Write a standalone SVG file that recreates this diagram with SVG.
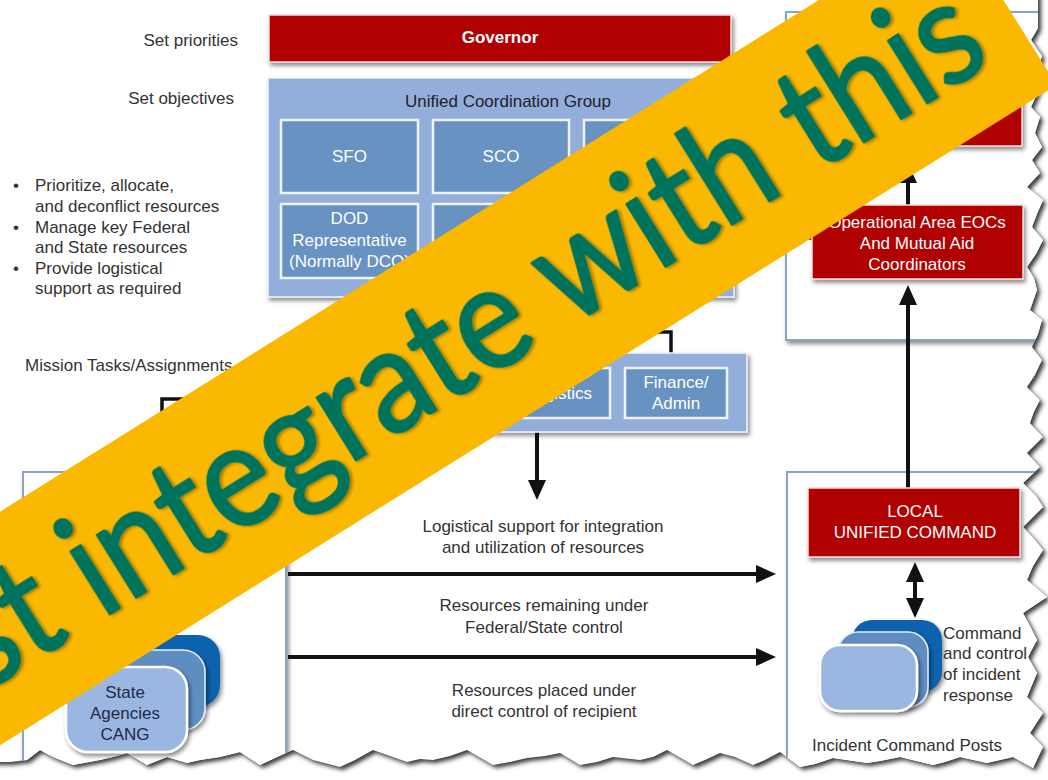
<svg xmlns="http://www.w3.org/2000/svg" width="1048" height="780" viewBox="0 0 1048 780">
  <defs>
    <style>
      .lbl{font-family:"Liberation Sans",Arial,sans-serif;font-size:17px;fill:#333}
      .mid{text-anchor:middle}
      .end{text-anchor:end}
      .wt{fill:#fff}
      .dk{fill:#222}
      .navy{fill:#1d2a48}
      .red{fill:#B10005;stroke:#f3dede;stroke-width:1.5}
      .ucg{fill:#93AEDA;stroke:#eef2fa;stroke-width:1.5}
      .cell{fill:#6892C2;stroke:#eef3fb;stroke-width:2.5}
      .frame{fill:#fff;stroke:#88A5C7;stroke-width:2}
      .wire{fill:none;stroke:#111;stroke-width:3.5}
      .arrow{fill:none;stroke:#111;stroke-width:4;marker-end:url(#ah)}
      .both{marker-start:url(#ah)}
      .c1{fill:#0B62AD}
      .c2{fill:#5E8DC2;stroke:#e8eef8;stroke-width:1.5}
      .c3{fill:#9CB6E2;stroke:#fff;stroke-width:2.5}
    </style>
    <filter id="sh" x="-10%" y="-10%" width="125%" height="130%">
      <feDropShadow dx="2" dy="3" stdDeviation="2" flood-color="#000" flood-opacity="0.45"/>
    </filter>
    <filter id="tearShade" x="-5%" y="-5%" width="110%" height="110%">
      <feGaussianBlur stdDeviation="2"/>
    </filter>
    <filter id="ts" x="-5%" y="-5%" width="110%" height="110%">
      <feDropShadow dx="2" dy="2" stdDeviation="1.5" flood-color="#000" flood-opacity="0.35"/>
    </filter>
    <marker id="ah" viewBox="0 0 20 18" markerWidth="20" markerHeight="18" refX="13" refY="9" orient="auto-start-reverse" markerUnits="userSpaceOnUse">
      <path d="M0,0 L20,9 L0,18 z" fill="#111"/>
    </marker>
    <!-- torn sheet outline: ragged right and bottom edges -->
    <path id="pageShape" d="M-10,-10 H1038 V28 L1031,40 L1042,56 L1037,70 L1040,86 L1036,96 L1031,107 L1040,117 L1035,133 L1042,147 L1032,160 L1040,173 L1027,187 L1043,200 L1037,214 L1032,227 L1043,240 L1036,254 L1027,267 L1034,278 L1037,290 L1030,310 L1042,320 L1038,334 L1032,347 L1042,360 L1035,375 L1027,387 L1040,400 L1034,412 L1030,423 L1043,437 L1027,453 L1040,467 L1023,483 L1036,496 L1043,507 L1023,527 L1035,540 L1043,550 L1033,566 L1027,580 L1047,597 L1023,613 L1030,626 L1037,640 L1028,657 L1037,673 L1027,697 L1036,706 L1043,713 L1030,733 L1043,747 L1033,768 L1013,757 L1000,760 L987,763 L960,757 L945,762 L933,765 L900,757 L880,761 L867,763 L833,758 L815,764 L800,767 L780,752 L765,760 L753,765 L735,757 L720,753 L705,760 L693,765 L667,750 L653,757 L640,760 L613,757 L597,762 L580,765 L560,753 L545,756 L527,758 L510,762 L493,765 L467,750 L450,756 L433,760 L420,759 L407,762 L373,750 L355,760 L340,767 L313,760 L293,750 L275,758 L260,765 L240,752 L220,757 L200,760 L187,763 L167,757 L147,765 L127,753 L113,757 L100,760 L73,765 L53,757 L40,750 L27,760 L10,762 L-10,762 Z"/>
    <clipPath id="page"><use href="#pageShape"/></clipPath>
  </defs>

  <rect width="1048" height="780" fill="#fff"/>

  <!-- sheet with its shadow -->
  <use href="#pageShape" fill="#3a3a3a" transform="translate(3,3)" filter="url(#tearShade)"/>
  <use href="#pageShape" fill="#fff"/>

  <g clip-path="url(#page)">
    <!-- side labels -->
    <g id="labels">
      <text class="lbl end" x="238" y="46">Set priorities</text>
      <text class="lbl end" x="234" y="104">Set objectives</text>
      <text class="lbl" x="13" y="191">•</text>
      <text class="lbl" x="35" y="191">Prioritize, allocate,</text>
      <text class="lbl" x="35" y="212">and deconflict resources</text>
      <text class="lbl" x="13" y="233">•</text>
      <text class="lbl" x="35" y="233">Manage key Federal</text>
      <text class="lbl" x="35" y="253">and State resources</text>
      <text class="lbl" x="13" y="274">•</text>
      <text class="lbl" x="35" y="274">Provide logistical</text>
      <text class="lbl" x="35" y="294">support as required</text>
      <text class="lbl" x="25" y="371">Mission Tasks/Assignments</text>
    </g>

    <!-- outer frames -->
    <g id="state-frame"><rect class="frame" x="786" y="12" width="270" height="328" filter="url(#sh)"/></g>
    <g id="field-frame"><rect class="frame" x="23" y="472" width="263" height="320" filter="url(#sh)"/></g>
    <g id="local-frame"><rect class="frame" x="787" y="472" width="270" height="320" filter="url(#sh)"/></g>

    <!-- connectors -->
    <g id="connectors">
      <path class="wire" d="M300,399 H162 V472"/>
      <path class="wire" d="M500,297 V332 H671 V368"/>
      <path class="wire" d="M735,238 H812"/>
      <path class="arrow" d="M908,488 V292"/>
      <path class="arrow" d="M908,205 V170"/>
      <path class="arrow" d="M537,432 V493"/>
      <path class="arrow" d="M288,574 H769"/>
      <path class="arrow" d="M288,657 H769"/>
      <path class="arrow both" d="M915,569 V611"/>
    </g>

    <g id="governor">
      <rect class="red" x="269" y="15" width="462" height="47" filter="url(#sh)"/>
      <text class="lbl mid wt" x="500" y="43" font-weight="bold">Governor</text>
    </g>

    <g id="ucg">
      <rect class="ucg" x="268" y="78" width="466" height="219" filter="url(#sh)"/>
      <text class="lbl mid dk" x="508" y="107">Unified Coordination Group</text>
      <rect class="cell" x="281" y="120" width="137" height="73"/>
      <text class="lbl mid wt" x="349.5" y="162">SFO</text>
      <rect class="cell" x="433" y="120" width="136" height="73"/>
      <text class="lbl mid wt" x="501" y="162">SCO</text>
      <rect class="cell" x="584" y="120" width="136" height="73"/>
      <rect class="cell" x="281" y="204" width="137" height="74"/>
      <text class="lbl mid wt" x="349.5" y="224">DOD</text>
      <text class="lbl mid wt" x="349.5" y="246">Representative</text>
      <text class="lbl mid wt" x="349.5" y="267">(Normally DCO)</text>
      <rect class="cell" x="433" y="204" width="136" height="74"/>
      <rect class="cell" x="584" y="204" width="136" height="74"/>
    </g>

    <g id="sections">
      <rect class="ucg" x="300" y="353" width="447" height="79" filter="url(#sh)"/>
      <rect class="cell" x="508" y="368" width="102" height="50"/>
      <text class="lbl mid wt" x="559" y="399">Logistics</text>
      <rect class="cell" x="625" y="368" width="102" height="50"/>
      <text class="lbl mid wt" x="676" y="388">Finance/</text>
      <text class="lbl mid wt" x="676" y="409">Admin</text>
    </g>

    <g id="state-ops">
      <rect class="red" x="808" y="80" width="214" height="66" filter="url(#sh)"/>
    </g>

    <g id="op-area-eocs">
      <rect class="red" x="812" y="205" width="211" height="74" filter="url(#sh)"/>
      <text class="lbl mid wt" x="917" y="228">Operational Area EOCs</text>
      <text class="lbl mid wt" x="917" y="249">And Mutual Aid</text>
      <text class="lbl mid wt" x="917" y="270">Coordinators</text>
    </g>

    <g id="flow-labels">
      <text class="lbl mid" x="543" y="532">Logistical support for integration</text>
      <text class="lbl mid" x="543" y="553">and utilization of resources</text>
      <text class="lbl mid" x="544" y="611">Resources remaining under</text>
      <text class="lbl mid" x="544" y="633">Federal/State control</text>
      <text class="lbl mid" x="544" y="696">Resources placed under</text>
      <text class="lbl mid" x="544" y="717">direct control of recipient</text>
    </g>

    <g id="state-agencies">
      <rect class="c1" x="105" y="635" width="115" height="72" rx="22" filter="url(#sh)"/>
      <rect class="c2" x="88" y="650" width="117" height="80" rx="22" filter="url(#sh)"/>
      <rect class="c3" x="66" y="667" width="121" height="85" rx="22" filter="url(#sh)"/>
      <text class="lbl mid navy" x="125" y="698">State</text>
      <text class="lbl mid navy" x="125" y="719">Agencies</text>
      <text class="lbl mid navy" x="125" y="740">CANG</text>
    </g>

    <g id="local-unified-command">
      <rect class="red" x="808" y="488" width="212" height="69" filter="url(#sh)"/>
      <text class="lbl mid wt" x="915" y="517">LOCAL</text>
      <text class="lbl mid wt" x="915" y="538">UNIFIED COMMAND</text>
    </g>

    <g id="incident-command-posts">
      <rect class="c1" x="852" y="620" width="90" height="72" rx="20" filter="url(#sh)"/>
      <rect class="c2" x="838" y="632" width="90" height="75" rx="20" filter="url(#sh)"/>
      <rect class="c3" x="820" y="645" width="97" height="66" rx="20" filter="url(#sh)"/>
      <text class="lbl" x="943" y="639">Command</text>
      <text class="lbl" x="943" y="659">and control</text>
      <text class="lbl" x="943" y="680">of incident</text>
      <text class="lbl" x="943" y="701">response</text>
      <text class="lbl mid" x="907" y="751">Incident Command Posts</text>
    </g>
  </g>

  <!-- diagonal banner laid over the sheet -->
  <g id="banner" transform="translate(524,301) rotate(-32)">
    <rect x="-820" y="-99" width="1386" height="198" fill="#FBB800"/>
    <text x="-666" y="46" textLength="1192" lengthAdjust="spacingAndGlyphs" font-family="Lato, 'Open Sans', sans-serif" font-size="146" fill="#00735B" stroke="#00735B" stroke-width="2.5" stroke-linejoin="round" filter="url(#ts)">st integrate with this</text>
  </g>
</svg>
